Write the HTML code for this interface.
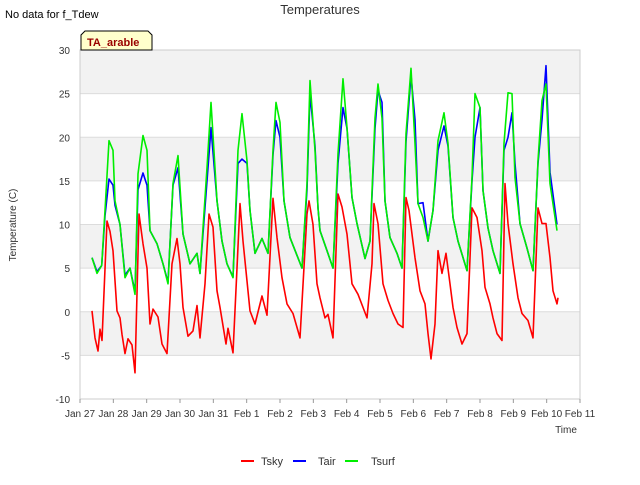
<!DOCTYPE html>
<html><head><meta charset="utf-8"><style>
body{margin:0;background:#fff;font-family:"Liberation Sans","DejaVu Sans",sans-serif;}
svg text{font-family:"Liberation Sans","DejaVu Sans",sans-serif;}
</style></head><body>
<svg id="chart" width="640" height="480" xmlns="http://www.w3.org/2000/svg">
<text x="5" y="18" font-size="11" fill="#000">No data for f_Tdew</text>
<text x="320" y="14" font-size="13" fill="#333" text-anchor="middle">Temperatures</text>
<g id="plot"></g>
<g id="axes"></g>
<g id="series"></g>
<g>
<path d="M81,50 L81,35 L85,31 L148,31 L152,35 L152,50 Z" fill="#ffffcc" stroke="#000" stroke-width="1"/>
<text x="87" y="46" font-size="11" font-weight="bold" fill="#990000">TA_arable</text>
</g>
<text transform="translate(16,225) rotate(-90)" font-size="10" text-anchor="middle" fill="#333">Temperature (C)</text>
<text x="566" y="433" font-size="10" text-anchor="middle" fill="#333">Time</text>
<g>
<g><line x1="241" y1="461" x2="254" y2="461" stroke="#ff0000" stroke-width="2"/><text x="261" y="465" font-size="11" fill="#333">Tsky</text></g>
<g><line x1="293" y1="461" x2="306" y2="461" stroke="#0000ff" stroke-width="2"/><text x="318" y="465" font-size="11" fill="#333">Tair</text></g>
<g><line x1="345" y1="461" x2="358" y2="461" stroke="#00ee00" stroke-width="2"/><text x="371" y="465" font-size="11" fill="#333">Tsurf</text></g>
</g>
</svg>
<script>
const xTickLabels = ["Jan 27","Jan 28","Jan 29","Jan 30","Jan 31","Feb 1","Feb 2","Feb 3","Feb 4","Feb 5","Feb 6","Feb 7","Feb 8","Feb 9","Feb 10","Feb 11"];
const yTicks = [-10,-5,0,5,10,15,20,25,30];
const surfTimes = [0.36,0.51,0.65,0.75,0.87,0.99,1.05,1.2,1.35,1.5,1.65,1.74,1.89,2.01,2.1,2.31,2.49,2.64,2.79,2.94,3.09,3.3,3.51,3.6,3.81,3.93,4.11,4.26,4.41,4.59,4.74,4.86,5.01,5.1,5.25,5.46,5.64,5.79,5.88,6.0,6.12,6.3,6.66,6.81,6.9,7.05,7.14,7.2,7.41,7.59,7.74,7.89,8.01,8.16,8.31,8.55,8.7,8.85,8.94,9.06,9.15,9.3,9.51,9.66,9.78,9.93,10.05,10.14,10.29,10.44,10.59,10.74,10.92,11.04,11.19,11.34,11.61,11.76,11.85,12.0,12.09,12.24,12.39,12.6,12.72,12.84,12.96,13.05,13.2,13.41,13.59,13.74,13.86,13.98,14.1,14.31];
const tsurf = [6.2,4.4,5.3,11.6,19.6,18.5,12.7,10,3.9,5,2,15.8,20.2,18.5,9.3,7.8,5.5,3.2,14.7,17.9,8.9,5.5,6.7,4.4,16.5,24,12.7,8.1,5.5,3.9,18.5,22.7,17.3,11.6,6.7,8.4,6.7,18.5,24,21.7,12.7,8.5,5,14.7,26.5,18.5,11.9,9.3,7,5,18.1,26.7,21.1,13.1,10.1,6.1,8.1,22.2,26.1,22.2,12.7,8.5,6.7,5,20.4,27.9,19.3,12.4,10.8,8.1,11.6,19.6,22.8,19.3,10.8,8.1,4.7,15.4,25,23.4,13.9,9.6,7,4.4,19.3,25.1,25,15.4,10.1,7.3,4.7,17.3,24.2,26.1,14.7,9.3];
const tair = [6.2,4.6,5.3,11,15.2,14.5,12.2,10,4.2,5,2.3,14,15.9,14.5,9.3,7.8,5.5,3.4,14.5,16.5,8.9,5.5,6.7,4.4,15,21.1,12.7,8.1,5.5,4,17,17.5,17,11.6,6.7,8.4,6.7,18,21.9,20,12.7,8.5,5,14,25,19,11.9,9.3,7,5,17,23.4,21,13.1,10.1,6.1,8.1,21,25.4,24,12.7,8.5,6.7,5,19.5,27.1,22,12.4,12.5,8.1,11.6,18.5,21.3,19,10.8,8.1,4.7,15,20,23.4,13.9,9.6,7,4.4,18.5,20,22.8,17,10.1,7.3,4.7,17,22,28.2,16,10];
const skyTimes = [0.36,0.45,0.54,0.6,0.66,0.81,0.9,0.99,1.11,1.2,1.26,1.35,1.44,1.56,1.65,1.77,1.89,2.01,2.1,2.19,2.34,2.46,2.61,2.76,2.91,3.0,3.09,3.24,3.39,3.51,3.6,3.75,3.87,3.99,4.11,4.2,4.38,4.44,4.59,4.71,4.8,4.89,5.1,5.25,5.46,5.61,5.79,5.91,6.06,6.21,6.39,6.6,6.81,6.87,6.99,7.11,7.2,7.35,7.44,7.59,7.74,7.86,8.01,8.16,8.34,8.49,8.61,8.76,8.82,8.94,9.09,9.24,9.39,9.54,9.69,9.78,9.87,10.05,10.2,10.35,10.44,10.53,10.65,10.74,10.86,10.98,11.1,11.19,11.31,11.46,11.61,11.76,11.91,12.06,12.15,12.3,12.39,12.51,12.66,12.75,12.84,12.99,13.14,13.26,13.44,13.59,13.74,13.86,13.98,14.1,14.19,14.31,14.34];
const tsky = [0.1,-3,-4.5,-2,-3.3,10.4,9.2,7,0.1,-0.7,-2.6,-4.8,-3.1,-3.8,-7,11.2,7.8,5,-1.4,0.3,-0.6,-3.7,-4.8,5.5,8.4,5.5,0.5,-2.8,-2.2,0.7,-3,3.2,11.2,9.7,2.4,0.5,-3.7,-1.9,-4.7,5,12.4,8.1,0.1,-1.4,1.8,-0.4,13,8.5,3.9,0.9,-0.2,-3,11.2,12.7,10,3.2,1.6,-0.7,-0.3,-3,13.5,12,8.9,3.2,2,0.5,-0.7,5.5,12.4,10.1,3.2,1.3,-0.2,-1.4,-1.8,13.1,11.6,6.2,2.4,0.9,-2.5,-5.4,-1.4,7,4.4,6.7,3.2,0.5,-1.8,-3.7,-2.5,11.9,10.8,7,2.8,0.9,-0.7,-2.5,-3.3,14.7,10.1,5.5,1.6,-0.2,-1,-3,11.9,10.1,10.1,6.2,2.4,0.9,1.6];

const X0=80,X1=580,Y0=399,Y1=50,DMIN=0,DMAX=15,VMIN=-10,VMAX=30;
const NS="http://www.w3.org/2000/svg";
function xs(d){return X0+(d-DMIN)/(DMAX-DMIN)*(X1-X0);}
function ys(v){return Y0-(v-VMIN)/(VMAX-VMIN)*(Y0-Y1);}
function mk(tag,attrs,parent){const e=document.createElementNS(NS,tag);for(const k in attrs)e.setAttribute(k,attrs[k]);parent.appendChild(e);return e;}
const plot=document.getElementById('plot'),axes=document.getElementById('axes'),series=document.getElementById('series');
mk('rect',{x:X0,y:Y1,width:X1-X0,height:Y0-Y1,fill:'#ffffff'},plot);
for(let i=0;i<yTicks.length-1;i++){
  if(yTicks[i]%10!==0){
    const b=mk('rect',{x:X0,y:ys(yTicks[i+1]),width:X1-X0,height:ys(yTicks[i])-ys(yTicks[i+1]),fill:'#f2f2f2'},plot);
    
    
  }
}
yTicks.forEach(v=>{
  const l=mk('line',{x1:X0,x2:X1,y1:ys(v),y2:ys(v),stroke:'#dcdcdc','stroke-width':1},plot);
  
  
  const t=mk('text',{x:X0-10,y:ys(v)+4,'font-size':10,'text-anchor':'end',fill:'#333'},axes);
  t.textContent=v;
  
  
});
mk('rect',{x:X0,y:Y1,width:X1-X0,height:Y0-Y1,fill:'none',stroke:'#cccccc'},plot);
xTickLabels.forEach((lab,i)=>{
  const x=xs(i);
  const tk=mk('line',{x1:x,x2:x,y1:Y0,y2:Y0+4,stroke:'#999'},axes);
  
  
  const t=mk('text',{x:x,y:Y0+18,'font-size':10,'text-anchor':'middle',fill:'#333'},axes);
  t.textContent=lab;
  
  
});
function line(times,vals,color,name){
  const pts=times.map((d,i)=>xs(d).toFixed(1)+','+ys(vals[i]).toFixed(1)).join(' ');
  const p=mk('polyline',{points:pts,fill:'none',stroke:color,'stroke-width':1.6,'stroke-linejoin':'round'},series);
  
  
}
line(skyTimes,tsky,'#ff0000','tsky-line');
line(surfTimes,tair,'#0000ff','tair-line');
line(surfTimes,tsurf,'#00ee00','tsurf-line');
</script>
</body></html>
